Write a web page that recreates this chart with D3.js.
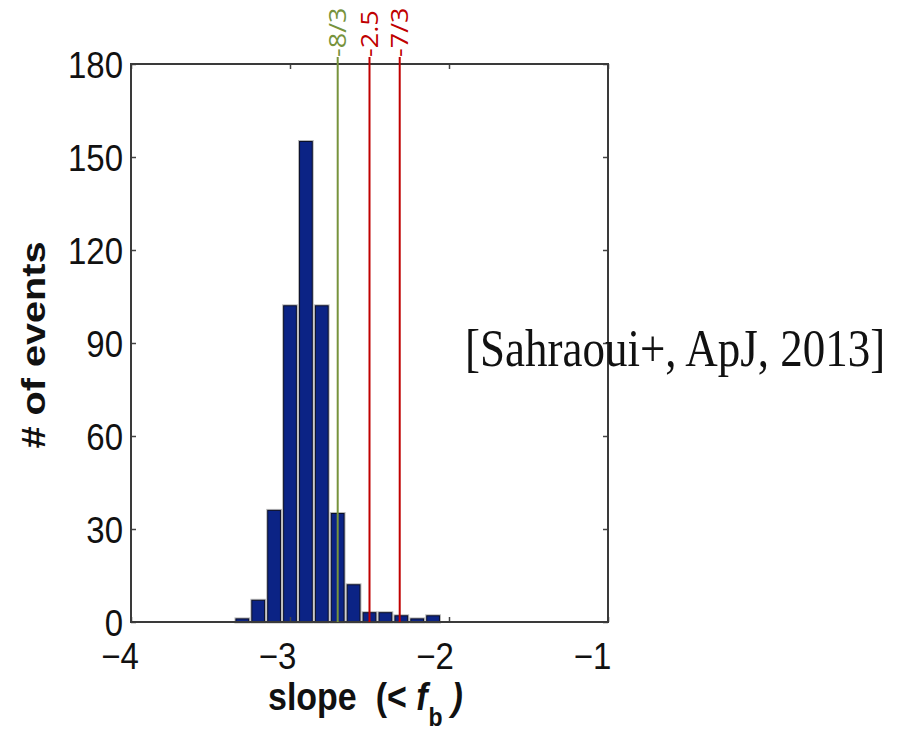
<!DOCTYPE html>
<html>
<head>
<meta charset="utf-8">
<script src="https://cdn.jsdelivr.net/npm/d3@7"></script>
<style>
  html, body { margin: 0; padding: 0; background: #fff; }
  svg { display: block; }
</style>
</head>
<body>
<svg id="chart" width="899" height="733"></svg>
<script>
// ---- data ----
const binCenters = [-3.3, -3.2, -3.1, -3.0, -2.9, -2.8, -2.7, -2.6, -2.5, -2.4, -2.3, -2.2, -2.1];
const counts     = [1, 7, 36, 102, 155, 102, 35, 12, 3, 3, 2, 1, 2];
const binWidth   = 0.1;
const xTicks     = [-4, -3, -2, -1];
const yTicks     = [0, 30, 60, 90, 120, 150, 180];
const refLabels  = ["-8/3", "-2.5", "-7/3"];
const refValues  = [-2.70, -2.50, -2.31];   // positions as drawn in the picture
const xTitle     = "slope";
const yTitle     = "# of events";
const citation   = "[Sahraoui+, ApJ, 2013]";

// ---- layout ----
const svg = d3.select("#chart");
const L = 131, R = 608, T = 64, B = 622;
const x = d3.scaleLinear().domain([-4, -1]).range([L, R]);
const y = d3.scaleLinear().domain([0, 180]).range([B, T]);

const refColors = ["#77933c", "#c00000", "#c00000"];
const fontSans = "'Liberation Sans', Arial, Helvetica, sans-serif";

// bars
const bars = binCenters.map((c, i) => ({ c, v: counts[i] }));
const bw = binWidth * 0.8;
// soft gray halo
svg.append("g").selectAll("rect").data(bars).join("rect")
  .attr("x", d => x(d.c - bw / 2))
  .attr("y", d => y(d.v))
  .attr("width", d => x(d.c + bw / 2) - x(d.c - bw / 2))
  .attr("height", d => y(0) - y(d.v))
  .attr("fill", "none")
  .attr("stroke", "#b8b8b8")
  .attr("stroke-width", 3);
svg.append("g").selectAll("rect").data(bars).join("rect")
  .attr("x", d => x(d.c - bw / 2))
  .attr("y", d => y(d.v))
  .attr("width", d => x(d.c + bw / 2) - x(d.c - bw / 2))
  .attr("height", d => y(0) - y(d.v))
  .attr("fill", "#0b2385")
  .attr("stroke", "#0a0f2a")
  .attr("stroke-width", 1);

// axes via d3 axis (ticks inside, labels custom)
const xAxisB = d3.axisBottom(x).tickValues(xTicks).tickSize(-5).tickFormat("");
const xAxisT = d3.axisTop(x).tickValues(xTicks).tickSize(-5).tickFormat("");
const yAxisL = d3.axisLeft(y).tickValues(yTicks).tickSize(-5).tickFormat("");
const yAxisR = d3.axisRight(y).tickValues(yTicks).tickSize(-5).tickFormat("");
function styleAxis(g) {
  g.select(".domain").remove();
  g.selectAll(".tick line").attr("stroke", "#444").attr("stroke-width", 1.5);
}
svg.append("g").attr("transform", `translate(0,${B})`).call(xAxisB).call(styleAxis);
svg.append("g").attr("transform", `translate(0,${T})`).call(xAxisT).call(styleAxis);
svg.append("g").attr("transform", `translate(${L},0)`).call(yAxisL).call(styleAxis);
svg.append("g").attr("transform", `translate(${R},0)`).call(yAxisR).call(styleAxis);

// frame
svg.append("rect")
  .attr("x", L).attr("y", T).attr("width", R - L).attr("height", B - T)
  .attr("fill", "none").attr("stroke", "#3a3a3a").attr("stroke-width", 2);

// reference lines
refValues.forEach((v, i) => {
  svg.append("line")
    .attr("x1", x(v)).attr("x2", x(v))
    .attr("y1", 57).attr("y2", B)
    .attr("stroke", refColors[i]).attr("stroke-width", 2);
  svg.append("text")
    .attr("transform", `translate(${x(v) + 8.5},57) rotate(-90) scale(1.15,1)`)
    .attr("text-anchor", "start")
    .attr("font-family", "'Open Sans', sans-serif")
    .attr("font-size", 23.5)
    .attr("fill", refColors[i])
    .text(refLabels[i]);
});

// y tick labels
svg.append("g").selectAll("text").data(yTicks).join("text")
  .attr("transform", d => `translate(123,${y(d) + 14}) scale(1,1.12)`)
  .attr("text-anchor", "end")
  .attr("font-family", fontSans)
  .attr("font-size", 33)
  .attr("fill", "#111")
  .text(d => d3.format("d")(d));

// x tick labels
svg.append("g").selectAll("text").data(xTicks).join("text")
  .attr("transform", d => `translate(${x(d) - 11 - (d + 4) * 1.5},669) scale(1,1.1)`)
  .attr("text-anchor", "middle")
  .attr("font-family", fontSans)
  .attr("font-size", 33)
  .attr("fill", "#111")
  .text(d => d3.format("d")(d).replace("-", "\u2212"));

// x title
const xt = svg.append("text")
  .attr("transform", "translate(268,710) scale(1,1.12)")
  .attr("font-family", fontSans)
  .attr("font-size", 34)
  .attr("font-weight", "bold")
  .attr("fill", "#111");
xt.append("tspan").text(xTitle + "\u00a0\u00a0(<\u00a0");
xt.append("tspan").attr("font-style", "italic").text("f");
xt.append("tspan").attr("font-size", 23).attr("dy", 14).attr("dx", 1).text("b");
xt.append("tspan").attr("dy", -14).attr("dx", 9).attr("font-style", "italic").text(")");

// y title
svg.append("text")
  .attr("transform", "translate(45,345) rotate(-90) scale(1.2,1)")
  .attr("text-anchor", "middle")
  .attr("font-family", fontSans)
  .attr("font-size", 33)
  .attr("font-weight", "bold")
  .attr("fill", "#111")
  .text(yTitle);

// citation
svg.append("text")
  .attr("transform", "translate(465,366) scale(1,1.15)")
  .attr("font-family", "'Liberation Serif', 'Times New Roman', serif")
  .attr("font-size", 45)
  .attr("fill", "#111")
  .text(citation);
</script>
</body>
</html>
